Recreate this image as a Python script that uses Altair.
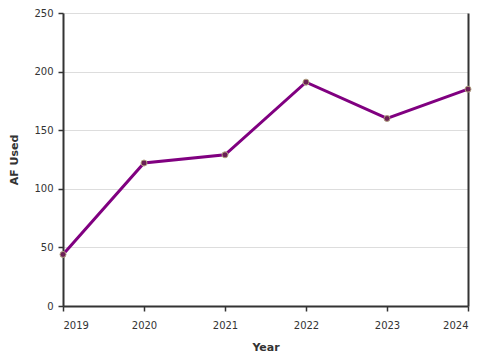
import altair as alt
import pandas as pd

years = [2019, 2020, 2021, 2022, 2023, 2024]
af_used = [44, 122, 129, 191, 160, 185]
y_ticks = [0, 50, 100, 150, 200, 250]

df = pd.DataFrame({"Year": years, "AF Used": af_used})

base = alt.Chart(df)

x_enc = alt.X("Year:Q", title="Year",
              scale=alt.Scale(domain=[2019, 2024], nice=False, zero=False),
              axis=alt.Axis(values=years, format="d", grid=False))

line = base.mark_line(color="#800080", strokeWidth=3).encode(
    x=x_enc,
    y=alt.Y("AF Used:Q", title="AF Used",
            scale=alt.Scale(domain=[0, 250], nice=False),
            axis=alt.Axis(values=y_ticks, orient="left")),
)

points = base.mark_point(filled=True, size=36, color="#6b1f55",
                         stroke="#b0a080", strokeWidth=1, opacity=1).encode(
    x=x_enc,
    y=alt.Y("AF Used:Q",
            scale=alt.Scale(domain=[0, 250], nice=False),
            axis=alt.Axis(orient="right", grid=False, labels=False,
                          ticks=False, title=None)),
)

chart = alt.layer(line, points).resolve_scale(y="independent").properties(
    width=405,
    height=293,
    autosize=alt.AutoSizeParams(type="none"),
    padding={"left": 55, "top": 5, "right": 4, "bottom": 54},
).configure_view(
    stroke=None
).configure_axis(
    labelFont="DejaVu Sans",
    labelFontSize=10,
    labelColor="#333333",
    titleFont="DejaVu Sans",
    titleFontSize=11,
    titleFontWeight="bold",
    titleColor="#333333",
    domainColor="#333333",
    domainWidth=2,
    tickColor="#333333",
    tickWidth=1.5,
    tickSize=5,
    gridColor="#dddddd",
    gridWidth=1,
).configure_axisX(
    labelPadding=9,
    titlePadding=11,
).configure_axisY(
    labelPadding=5,
    titlePadding=14,
)

chart.save("out.html", embed_options={"renderer": "svg", "actions": False})
